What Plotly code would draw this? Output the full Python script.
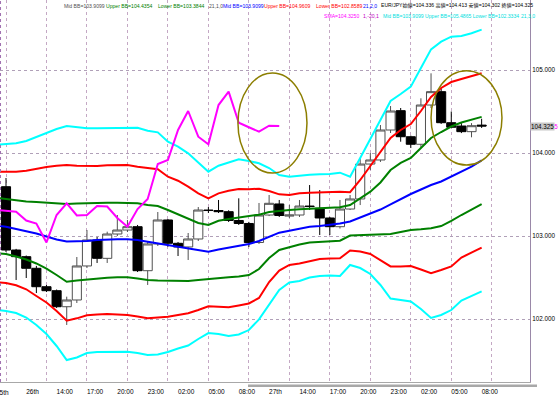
import plotly.graph_objects as go

# ---------------- data (EUR/JPY 1H) ----------------
bars = list(range(48))
opens = [103.594, 102.831, 102.751, 102.611, 102.389, 102.341, 102.148, 102.229, 102.639, 102.952,
         102.731, 103.024, 103.072, 103.112, 102.582, 102.904, 103.193, 102.912, 102.868, 102.964,
         103.313, 103.307, 103.293, 103.187, 103.151, 102.922, 103.253, 103.386, 103.240, 103.253,
         103.361, 103.334, 103.217, 103.112, 103.325, 103.446, 103.867, 103.916, 104.277, 104.510,
         104.196, 104.105, 104.578, 104.739, 104.365, 104.325, 104.257, 104.336]
highs = [103.699, 102.845, 102.765, 102.640, 102.410, 102.355, 102.269, 102.747, 103.072, 102.988,
         103.052, 103.253, 103.193, 103.133, 102.928, 103.289, 103.205, 102.928, 103.036, 103.349,
         103.349, 103.434, 103.310, 103.454, 103.170, 103.398, 103.494, 103.434, 103.374, 103.434,
         103.614, 103.554, 103.230, 103.434, 103.494, 103.930, 104.000, 104.337, 104.566, 104.542,
         104.210, 104.659, 104.960, 104.780, 104.500, 104.360, 104.360, 104.413]
lows = [102.807, 102.470, 102.494, 102.313, 102.325, 102.133, 101.928, 102.193, 102.614, 102.675,
        102.675, 103.000, 103.048, 102.566, 102.410, 102.880, 102.871, 102.759, 102.711, 102.940,
        103.277, 103.277, 103.169, 103.133, 102.868, 102.904, 103.240, 103.229, 103.217, 103.229,
        103.313, 103.012, 103.012, 103.090, 103.313, 103.373, 103.795, 103.892, 104.241, 104.136,
        104.060, 104.070, 104.542, 104.350, 104.300, 104.240, 104.189, 104.302]
closes = [102.831, 102.751, 102.611, 102.389, 102.341, 102.148, 102.229, 102.639, 102.952, 102.731,
          103.024, 103.072, 103.112, 102.582, 102.904, 103.193, 102.912, 102.868, 102.964, 103.313,
          103.307, 103.293, 103.187, 103.151, 102.922, 103.253, 103.394, 103.247, 103.253, 103.361,
          103.355, 103.217, 103.112, 103.325, 103.446, 103.867, 103.916, 104.277, 104.506, 104.196,
          104.105, 104.578, 104.739, 104.365, 104.310, 104.257, 104.329, 104.325]

# Bollinger band lines (21 period), first value is the bar just left of the window
band_x = list(range(-1, 48))
cyan_up = [104.100, 104.108, 104.117, 104.145, 104.196, 104.245, 104.289, 104.325, 104.310, 104.298,
           104.298, 104.298, 104.298, 104.298, 104.305, 104.269, 104.249, 104.136, 104.076, 103.996,
           103.883, 103.775, 103.847, 103.888, 103.924, 103.904, 103.876, 103.819, 103.735, 103.714,
           103.731, 103.739, 103.743, 103.747, 103.763, 103.714, 103.940, 104.169, 104.398, 104.627,
           104.711, 104.799, 105.024, 105.249, 105.341, 105.401, 105.410, 105.442, 105.487]
red_up = [103.775, 103.775, 103.775, 103.787, 103.811, 103.831, 103.847, 103.855, 103.847, 103.843,
          103.843, 103.852, 103.855, 103.855, 103.835, 103.816, 103.804, 103.714, 103.666, 103.594,
          103.514, 103.454, 103.514, 103.546, 103.566, 103.563, 103.570, 103.542, 103.502, 103.494,
          103.514, 103.522, 103.527, 103.530, 103.534, 103.527, 103.675, 103.843, 104.012, 104.181,
          104.277, 104.349, 104.506, 104.675, 104.783, 104.855, 104.892, 104.928, 104.961]
green_up = [103.460, 103.446, 103.428, 103.416, 103.410, 103.401, 103.392, 103.386, 103.392, 103.398,
            103.401, 103.401, 103.401, 103.401, 103.394, 103.373, 103.361, 103.313, 103.259, 103.211,
            103.157, 103.133, 103.184, 103.205, 103.220, 103.233, 103.257, 103.289, 103.305, 103.313,
            103.322, 103.328, 103.334, 103.340, 103.346, 103.373, 103.454, 103.534, 103.645, 103.795,
            103.880, 103.940, 104.060, 104.181, 104.253, 104.319, 104.367, 104.398, 104.435]
mid_bb = [103.125, 103.112, 103.084, 103.060, 103.030, 102.994, 102.958, 102.934, 102.934, 102.940,
          102.952, 102.960, 102.960, 102.960, 102.952, 102.931, 102.912, 102.892, 102.871, 102.852,
          102.831, 102.811, 102.837, 102.861, 102.886, 102.904, 102.940, 102.994, 103.040, 103.064,
          103.090, 103.112, 103.120, 103.133, 103.151, 103.175, 103.223, 103.265, 103.319, 103.380,
          103.446, 103.506, 103.560, 103.614, 103.657, 103.717, 103.771, 103.837, 103.910]
green_lo = [102.795, 102.783, 102.753, 102.717, 102.669, 102.608, 102.530, 102.449, 102.464, 102.478,
            102.488, 102.498, 102.502, 102.502, 102.488, 102.470, 102.464, 102.461, 102.458, 102.458,
            102.470, 102.478, 102.488, 102.502, 102.512, 102.530, 102.602, 102.735, 102.831, 102.867,
            102.898, 102.922, 102.931, 102.936, 102.943, 103.006, 103.012, 103.012, 103.016, 103.024,
            103.048, 103.072, 103.081, 103.093, 103.120, 103.181, 103.253, 103.319, 103.384]
red_lo = [102.445, 102.434, 102.406, 102.358, 102.277, 102.199, 102.096, 101.980, 102.008, 102.045,
          102.054, 102.060, 102.054, 102.048, 102.030, 102.008, 102.018, 102.028, 102.048, 102.069,
          102.108, 102.153, 102.148, 102.141, 102.163, 102.187, 102.253, 102.446, 102.584, 102.651,
          102.669, 102.699, 102.723, 102.729, 102.731, 102.825, 102.813, 102.783, 102.711, 102.633,
          102.633, 102.639, 102.596, 102.551, 102.590, 102.633, 102.741, 102.801, 102.859]
cyan_lo = [102.110, 102.096, 102.072, 102.018, 101.928, 101.819, 101.675, 101.506, 101.536, 101.590,
           101.602, 101.606, 101.606, 101.606, 101.590, 101.566, 101.572, 101.602, 101.645, 101.681,
           101.759, 101.831, 101.819, 101.795, 101.813, 101.867, 101.995, 102.174, 102.349, 102.440,
           102.458, 102.500, 102.518, 102.524, 102.518, 102.651, 102.614, 102.542, 102.410, 102.247,
           102.229, 102.211, 102.120, 102.012, 102.048, 102.108, 102.223, 102.277, 102.333]

lag_shift = 20  # SMA(1) shifted -20 (lagging close)

label_bars = [2, 5, 8, 11, 14, 17, 20, 23, 26, 29, 32, 35, 38, 41, 44, 47]
label_text = ["26th", "14:00", "17:00", "20:00", "23:00", "02:00", "05:00", "08:00",
              "27th", "14:00", "17:00", "20:00", "23:00", "02:00", "05:00", "08:00"]
price_ticks = [102, 103, 104, 105]

# highlight ellipses: (bar from, bar to, price low, price high)
ellipses = [(22.92, 29.74, 103.759, 104.964), (42.0, 49.01, 103.855, 104.992)]

FONT = "Liberation Sans, Arial, Noto Sans CJK JP, sans-serif"
W, H = 560, 398
ML, MR, MT, MB = 0, 30, 0, 16
PW, PH = W - ML - MR, H - MT - MB

fig = go.Figure()
fig.add_trace(go.Candlestick(
    x=bars, open=opens, high=highs, low=lows, close=closes,
    increasing=dict(line=dict(color='#505050', width=1), fillcolor='white'),
    decreasing=dict(line=dict(color='black', width=1), fillcolor='black'),
    whiskerwidth=0, showlegend=False, hoverinfo='skip'))

for vals, col in [(cyan_up, '#00FFFF'), (red_up, '#FF0000'), (green_up, '#008000'),
                  (mid_bb, '#0000FF'), (green_lo, '#008000'), (red_lo, '#FF0000'),
                  (cyan_lo, '#00FFFF')]:
    fig.add_trace(go.Scatter(x=band_x, y=vals, mode='lines', xaxis='x2',
                             line=dict(color=col, width=2), showlegend=False, hoverinfo='skip'))

lag_x = [b - lag_shift for b in bars[lag_shift - 1:]]
fig.add_trace(go.Scatter(x=lag_x, y=closes[lag_shift - 1:], mode='lines', xaxis='x2',
                         line=dict(color='#FF00FF', width=2), showlegend=False, hoverinfo='skip'))

shapes = []
for x0, x1, y0, y1 in ellipses:
    shapes.append(dict(type='circle', xref='x', yref='y', x0=x0, x1=x1, y0=y0, y1=y1,
                       line=dict(color='#8C7E00', width=1.5)))
shapes.append(dict(type='line', xref='paper', yref='paper', x0=0.001, x1=0.001, y0=0, y1=1,
                   line=dict(color='#A070B0', width=1, dash='dot')))
shapes.append(dict(type='rect', xref='paper', yref='paper', x0=248 / PW, x1=537 / PW,
                   y0=-5 / PH, y1=-2.5 / PH, fillcolor='#A8A8A8', line=dict(width=0)))

row1 = [(63, 'Mid BB=103.9099', '#505050'), (105, 'Upper BB=104.4354', '#008000'),
        (157, 'Lower BB=103.3844', '#008000'), (208, '21,1,0', '#505050'),
        (222, 'Mid BB=103.9099', '#0000FF'), (263, 'Upper BB=104.9609', '#FF0000'),
        (315, 'Lower BB=102.8589', '#FF0000'), (362, '21,2,0', '#0000FF'),
        (380, 'EUR/JPY始値=104.336 高値=104.413 安値=104.302 終値=104.325', '#000000')]
row2 = [(323, 'SMA=104.3250', '#FF00FF'), (362, '1,-20,1', '#C000C0'),
        (382, 'Mid BB=103.9099 Upper BB=105.4865 Lower BB=102.3334', '#00E0E0'),
        (520, '21,3,0', '#00E0E0')]

annotations = []
for rowy, row in [(6, row1), (16, row2)]:
    for px, txt, col in row:
        annotations.append(dict(xref='paper', yref='paper', x=px / PW, y=1 - rowy / PH,
                                xanchor='left', yanchor='middle', text=txt, showarrow=False,
                                borderpad=0,
                                font=dict(family=FONT, size=5.1, color=col)))
annotations.append(dict(xref='paper', yref='paper', x=-5 / PW, y=-10 / PH, xanchor='left',
                        yanchor='middle', text='25th', showarrow=False, borderpad=0,
                        font=dict(family=FONT, size=6.5, color='black')))
annotations.append(dict(xref='paper', yref='y', x=1, y=closes[-1], xanchor='left', xshift=4,
                        yanchor='middle', text='104.325', showarrow=False, borderpad=0,
                        font=dict(family=FONT, size=6.3, color='#FF00FF')))
annotations.append(dict(xref='paper', yref='y', x=1, y=closes[-1], xanchor='left', xshift=0,
                        yanchor='middle', text='104.325', showarrow=False, bgcolor='#C8C8C8',
                        borderpad=0, font=dict(family=FONT, size=6.3, color='black')))

x_lo = -6 / 10.12
x_hi = x_lo + PW / 10.12
y_hi = 105 + 70 / 83.0
y_lo = y_hi - PH / 83.0

fig.update_layout(
    width=W, height=H, margin=dict(l=ML, r=MR, t=MT, b=MB),
    paper_bgcolor='white', plot_bgcolor='white', showlegend=False,
    boxgap=0.1, boxgroupgap=0,
    xaxis=dict(range=[x_lo, x_hi], tickmode='linear', tick0=0, dtick=4, showgrid=True,
               gridcolor='#C4A8C4', griddash='dot', gridwidth=1, showticklabels=False,
               ticks='', zeroline=False, showline=True, linecolor='#A8A8A8', linewidth=1,
               rangeslider=dict(visible=False)),
    xaxis2=dict(overlaying='x', matches='x', anchor='y', side='bottom', tickmode='array',
                tickvals=label_bars, ticktext=label_text, ticklabelposition='outside right',
                ticklabelstandoff=4,
                showgrid=False, zeroline=False, ticks='', showline=False,
                tickfont=dict(family=FONT, size=6.5, color='black')),
    yaxis=dict(range=[y_lo, y_hi], side='right', tickmode='array', tickvals=price_ticks,
               tickformat='.3f', showgrid=True, gridcolor='#B0A0B8', griddash='dot',
               zeroline=False, showline=True, linecolor='#9A88A8', linewidth=1, ticks='',
               tickfont=dict(family=FONT, size=6.3, color='black')),
    shapes=shapes, annotations=annotations,
)

fig.write_html("out.html")
